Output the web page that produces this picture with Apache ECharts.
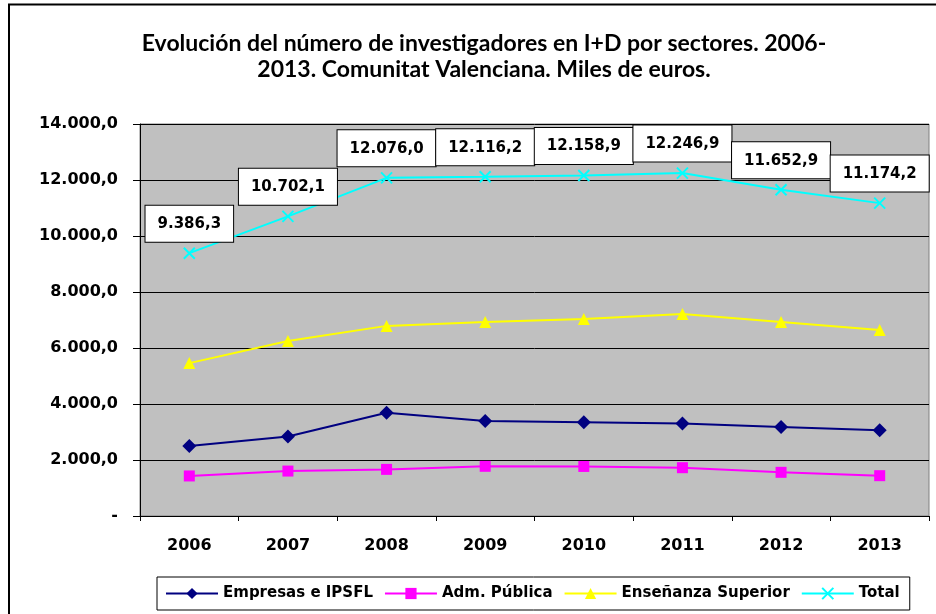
<!DOCTYPE html>
<html>
<head>
<meta charset="utf-8">
<script src="https://cdn.jsdelivr.net/npm/echarts@6/dist/echarts.min.js"></script>
<style>
  html, body { margin: 0; padding: 0; background: #fff; }
  #chart { width: 936px; height: 614px; }
</style>
</head>
<body>
<div id="chart"></div>
<script>
// datos
const years = ['2006', '2007', '2008', '2009', '2010', '2011', '2012', '2013']
const empresas = [2500, 2840, 3690, 3390, 3345, 3300, 3180, 3060]
const admPublica = [1430, 1605, 1665, 1775, 1770, 1725, 1560, 1440]
const ensenanza = [5460, 6250, 6790, 6930, 7040, 7210, 6930, 6640]
const total = [9386.3, 10702.1, 12076.0, 12116.2, 12158.9, 12246.9, 11652.9, 11174.2]
const yTicks = [0, 2000, 4000, 6000, 8000, 10000, 12000, 14000]

// formato español: 12.076,0  (cero como "-")
function fmt(v) {
	if (v === 0) return '-'
	const parts = v.toFixed(1).split('.')
	return parts[0].replace(/\B(?=(\d{3})+(?!\d))/g, '.') + ',' + parts[1]
}

const chart = echarts.init(document.getElementById('chart'))
const verdana = 'Verdana, "DejaVu Sans", sans-serif'

const option = {
	backgroundColor: '#fff',
	animation: false,
	title: {
		text: 'Evolución del número de investigadores en I+D por sectores. 2006-\n2013. Comunitat Valenciana. Miles de euros.',
		left: 479,
		textAlign: 'center',
		top: 26,
		textStyle: {
			fontFamily: 'Lato, sans-serif',
			fontWeight: 'bold',
			fontSize: 23,
			lineHeight: 26,
			color: '#000'
		}
	},
	grid: {
		left: 140,
		right: 7,
		top: 124,
		bottom: 98,
		show: true,
		backgroundColor: '#c0c0c0',
		borderColor: '#808080',
		borderWidth: 1
	},
	legend: {
		left: 157,
		top: 577,
		backgroundColor: '#fff',
		borderColor: '#000',
		borderWidth: 1,
		padding: [9, 10, 9, 8],
		itemWidth: 52,
		itemHeight: 14,
		itemGap: 11,
		textStyle: {
			fontFamily: verdana,
			fontWeight: 'bold',
			fontSize: 15,
			color: '#000'
		},
		data: ['Empresas e IPSFL', 'Adm. Pública', 'Enseñanza Superior', 'Total']
	},
	xAxis: {
		type: 'category',
		data: years,
		boundaryGap: true,
		axisLine: { lineStyle: { color: '#000', width: 1 } },
		axisTick: { show: true, length: 5, lineStyle: { color: '#000' } },
		axisLabel: {
			margin: 22,
			fontFamily: verdana,
			fontWeight: 'bold',
			fontSize: 16,
			color: '#000'
		}
	},
	yAxis: {
		type: 'value',
		min: 0,
		max: 14000,
		interval: 2000,
		axisLine: { show: true, lineStyle: { color: '#000', width: 1 } },
		axisTick: { show: true, length: 7, lineStyle: { color: '#000' } },
		splitLine: { lineStyle: { color: '#000', width: 1 } },
		axisLabel: {
			margin: 22,
			fontFamily: verdana,
			fontWeight: 'bold',
			fontSize: 16,
			color: '#000',
			formatter: (v) => yTicks.indexOf(v) >= 0 ? fmt(v) : ''
		}
	},
	series: [
		{
			name: 'Empresas e IPSFL',
			type: 'line',
			data: empresas,
			symbol: 'diamond',
			symbolSize: 14,
			lineStyle: { color: '#000080', width: 2 },
			itemStyle: { color: '#000080' }
		},
		{
			name: 'Adm. Pública',
			type: 'line',
			data: admPublica,
			symbol: 'rect',
			symbolSize: 11,
			lineStyle: { color: '#ff00ff', width: 2 },
			itemStyle: { color: '#ff00ff' }
		},
		{
			name: 'Enseñanza Superior',
			type: 'line',
			data: ensenanza,
			symbol: 'triangle',
			symbolSize: 12,
			lineStyle: { color: '#ffff00', width: 2 },
			itemStyle: { color: '#ffff00' }
		},
		{
			name: 'Total',
			type: 'line',
			data: total,
			symbol: 'path://M0,0L10,10M10,0L0,10',
			symbolSize: 11,
			lineStyle: { color: '#00ffff', width: 2 },
			itemStyle: { color: '#00ffff', borderColor: '#00ffff', borderWidth: 2 },
			label: {
				show: true,
				position: 'top',
				distance: 5,
				formatter: (p) => fmt(p.value),
				fontFamily: verdana,
				fontWeight: 'bold',
				fontSize: 15,
				color: '#000',
				backgroundColor: '#fff',
				borderColor: '#000',
				borderWidth: 1,
				padding: [11, 12, 10, 12]
			}
		}
	],
	graphic: [
		{
			type: 'polyline',
			silent: true,
			shape: { points: [[9, 614], [9, 4.5], [936, 4.5]] },
			style: { fill: null, stroke: '#000', lineWidth: 2 }
		}
	]
}
chart.setOption(option)
</script>
</body>
</html>
